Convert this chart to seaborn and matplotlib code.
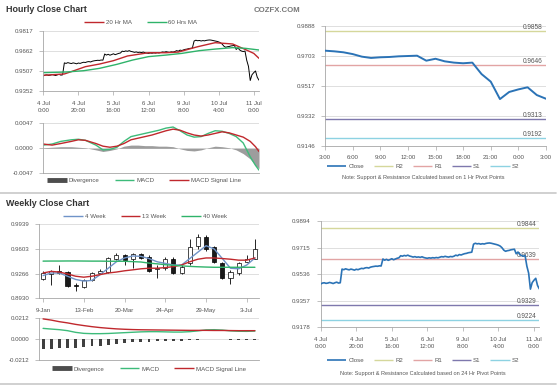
import numpy as np
import matplotlib
matplotlib.use("Agg")
import matplotlib.pyplot as plt
from matplotlib.lines import Line2D
import seaborn as sns

sns.set_style("white")
plt.rcParams['font.family'] = ['Liberation Sans', 'DejaVu Sans']

# ---- hourly data: 4 Jul 0:00 .. 11 Jul 3:00 (weekend skipped) ----
hourly_close = [
    0.9470, 0.9476, 0.9478, 0.9474, 0.9476, 0.9480, 0.9477, 0.9473, 0.9478, 0.9482, 0.9476, 0.9478,
    0.9570, 0.9566, 0.9572, 0.9568, 0.9565, 0.9570, 0.9567, 0.9563, 0.9569, 0.9566, 0.9571,
    0.9575, 0.9573, 0.9578, 0.9580, 0.9577, 0.9583, 0.9586, 0.9588, 0.9590, 0.9589, 0.9592, 0.9591,
    0.9638, 0.9630, 0.9636, 0.9629, 0.9634, 0.9640, 0.9633, 0.9638, 0.9643, 0.9646,
    0.9660, 0.9657, 0.9662, 0.9659, 0.9664, 0.9658, 0.9655, 0.9651, 0.9654, 0.9650,
    0.9652, 0.9649, 0.9653, 0.9648, 0.9645, 0.9643, 0.9646, 0.9644, 0.9647, 0.9645,
    0.9648, 0.9646, 0.9650, 0.9654, 0.9652, 0.9656, 0.9653, 0.9651, 0.9655, 0.9653, 0.9657,
    0.9664, 0.9660, 0.9668, 0.9665, 0.9670, 0.9674, 0.9676, 0.9680, 0.9682, 0.9684,
    0.9738, 0.9744, 0.9740, 0.9742, 0.9738, 0.9741, 0.9739, 0.9743, 0.9745, 0.9746, 0.9744, 0.9741, 0.9738,
    0.9735, 0.9731, 0.9725, 0.9714, 0.9698, 0.9690, 0.9694, 0.9696, 0.9700, 0.9702, 0.9704, 0.9673,
    0.9685, 0.9669, 0.9661, 0.9657, 0.9661, 0.9590, 0.9543, 0.9435, 0.9479, 0.9495, 0.9508, 0.9460, 0.9437,
]
hour_ticks = [0, 20, 40, 60, 80, 100, 120]
hour_labels = ['4 Jul\n0:00', '4 Jul\n20:00', '5 Jul\n16:00', '6 Jul\n12:00',
               '9 Jul\n8:00', '10 Jul\n4:00', '11 Jul\n0:00']

ma20_hours = [0, 12, 16, 24, 32, 40, 48, 60, 70, 77, 88, 98, 108, 115, 120, 123]
ma20 = [0.9475, 0.9485, 0.9503, 0.9541, 0.9561, 0.9587, 0.9623, 0.9648, 0.9648, 0.9653,
        0.9694, 0.9725, 0.9715, 0.9674, 0.9643, 0.9605]
ma60_hours = [0, 13, 23, 32, 42, 51, 60, 70, 79, 89, 98, 108, 115, 123]
ma60 = [0.9495, 0.9500, 0.9510, 0.9528, 0.9559, 0.9592, 0.9618, 0.9630, 0.9643, 0.9664,
        0.9676, 0.9687, 0.9682, 0.9669]

macd_hours = [0, 5, 10, 16, 20, 24, 30, 34, 38, 42, 46, 50, 54, 58, 62, 66, 70, 74, 78, 82,
              86, 90, 94, 98, 102, 106, 110, 114, 118, 121, 123]
h_macd = [0.0006, 0.0008, 0.0013, 0.0016, 0.0017, 0.0015, 0.0006, -0.0003, -0.0002, 0.0002,
          0.0013, 0.0022, 0.0025, 0.0028, 0.0031, 0.0034, 0.0038, 0.0040, 0.0033, 0.0025,
          0.0021, 0.0022, 0.0028, 0.0033, 0.0032, 0.0028, 0.0022, 0.0010, -0.0016, -0.0032, -0.0041]
h_signal = [0.0008, 0.0006, 0.0009, 0.0013, 0.0016, 0.0015, 0.0009, 0.0004, 0.0002, 0.0004,
            0.0009, 0.0016, 0.0019, 0.0022, 0.0025, 0.0029, 0.0033, 0.0036, 0.0034, 0.0029,
            0.0025, 0.0023, 0.0025, 0.0028, 0.0031, 0.0029, 0.0025, 0.0021, 0.0013, 0.0003, -0.0006]
h_div = [0.0001, 0.0002, 0.0003, 0.0003, 0.0002, 0.0001, -0.0003, -0.0006, -0.0004, -0.0001,
         0.0004, 0.0006, 0.0006, 0.0005, 0.0005, 0.0004, 0.0004, 0.0003, -0.0001, -0.0004,
         -0.0005, -0.0003, 0.0001, 0.0004, 0.0003, 0.0001, -0.0003, -0.0010, -0.0020, -0.0032, -0.0038]

# last 25 hours for the pivot chart
day_labels = ['3:00', '6:00', '9:00', '12:00', '15:00', '18:00', '21:00', '0:00', '3:00']
level_names = ['R2', 'R1', 'S1', 'S2']
levels_1h = [0.9858, 0.9646, 0.9313, 0.9192]
levels_24h = [0.9844, 0.9639, 0.9329, 0.9224]

# ---- weekly data ----
week_labels = ['9-Jan', '13-Feb', '20-Mar', '24-Apr', '29-May', '3-Jul']
w_open = [.9187, .9262, .9297, .9288, .9113, .9087, .9174, .9275, .9288, .9472, .9524, .9463, .9529, .9494,
          .9332, .9340, .9472, .9275, .9406, .9647, .9769, .9625, .9406, .9209, .9275, .9428, .9472]
w_high = [.9297, .9318, .9384, .9305, .9143, .9187, .9288, .9327, .9494, .9546, .9537, .9550, .9546, .9515,
          .9384, .9494, .9494, .9384, .9734, .9800, .9787, .9647, .9428, .9318, .9428, .9515, .9743]
w_low = [.9174, .9108, .9262, .9087, .9025, .9069, .9165, .9262, .9275, .9450, .9384, .9340, .9463, .9288,
         .9209, .9318, .9262, .9262, .9384, .9603, .9581, .9406, .9187, .9122, .9253, .9419, .9463]
w_close = [.9275, .9305, .9270, .9100, .9104, .9174, .9275, .9305, .9480, .9524, .9450, .9537, .9480, .9305,
           .9349, .9472, .9275, .9362, .9625, .9769, .9603, .9428, .9209, .9288, .9406, .9472, .9603]
ma4 = [.9240, .9275, .9275, .9231, .9187, .9165, .9174, .9253, .9340, .9428, .9480, .9507, .9502, .9472,
       .9428, .9406, .9384, .9384, .9472, .9559, .9647, .9603, .9472, .9340, .9332, .9384, .9480]
ma13 = [.9275, .9297, .9288, .9262, .9231, .9218, .9231, .9253, .9275, .9288, .9305, .9318, .9332, .9340,
        .9340, .9349, .9362, .9384, .9428, .9463, .9480, .9480, .9472, .9463, .9450, .9450, .9480]
ma40 = [.9437, .9438, .9438, .9439, .9439, .9438, .9437, .9437, .9435, .9435, .9435, .9430, .9425, .9410,
        .9400, .9388, .9380, .9372, .9365, .9360, .9356, .9353, .9353, .9353, .9353, .9353, .9353]
w_macd = [.0105, .0098, .0092, .0082, .0065, .0055, .0052, .0052, .0054, .0058, .0062, .0066, .0070, .0072,
          .0072, .0070, .0068, .0068, .0072, .0080, .0090, .0092, .0088, .0080, .0076, .0075, .0078]
w_signal = [.0200, .0188, .0172, .0160, .0145, .0133, .0122, .0113, .0106, .0100, .0096, .0093, .0091, .0090,
            .0089, .0088, .0087, .0086, .0085, .0085, .0085, .0084, .0084, .0083, .0082, .0082, .0082]
w_div = [-.0100, -.0098, -.0095, -.0092, -.0088, -.0082, -.0075, -.0068, -.0060, -.0050, -.0042, -.0036,
         -.0030, -.0027, -.0024, -.0022, -.0020, -.0018, -.0014, -.0010, -.0004, .0003, -.0006, -.0008,
         -.0009, -.0009, -.0008]

RED = '#c0282d'
GREEN = '#2fb36a'
MGREEN = '#3dbb7a'
BLUE = '#6f93c8'
CLOSE = '#2b73b6'
LVL_COL = ['#d5d79b', '#e2a4a4', '#7e78ad', '#8dd2e2']
TXT = '#555555'
FS = 4.4

W, H = 560, 386
fig = plt.figure(figsize=(5.6, 3.86), dpi=100)


def box(l, t, r, b):
    return [l / W, 1 - b / H, (r - l) / W, (b - t) / H]


def style(ax, ylabels):
    yt = [float(v) for v in ylabels]
    ax.set_yticks(yt)
    ax.set_yticklabels(ylabels)
    ax.set_ylim(min(yt), max(yt))
    ax.grid(axis='y', color='#d9d9d9', lw=0.6)
    ax.grid(axis='x', visible=False)
    for s in ['top', 'right']:
        ax.spines[s].set_visible(False)
    for s in ['left', 'bottom']:
        ax.spines[s].set_color('#a6a6a6')
        ax.spines[s].set_linewidth(0.6)
    ax.tick_params(labelsize=FS, colors='#a6a6a6', labelcolor=TXT, length=3, width=0.5, pad=4,
                   left=True, bottom=True)
    ax.set_xlabel('')
    ax.set_ylabel('')
    ax.set_axisbelow(True)


def legend(ax, handles, labels, cx, cy, colsp=2.5):
    ax.legend(handles, labels, loc='center', bbox_to_anchor=(cx / W, 1 - cy / H),
              bbox_transform=fig.transFigure, ncol=len(labels), frameon=False, fontsize=FS,
              handlelength=3.2, handletextpad=0.3, columnspacing=colsp, borderpad=0,
              labelcolor=TXT)


def line(c, lw=1.0):
    return Line2D([], [], color=c, lw=lw, solid_capstyle='butt')


hrs = np.arange(len(hourly_close))

# ---- hourly close chart ----
ax1 = fig.add_axes(box(43.3, 30.7, 259, 91.3))
sns.lineplot(x=hrs, y=hourly_close, ax=ax1, color='black', lw=0.7)
sns.lineplot(x=ma20_hours, y=ma20, ax=ax1, color=RED, lw=1.0)
sns.lineplot(x=ma60_hours, y=ma60, ax=ax1, color=GREEN, lw=1.0)
style(ax1, ['0.9352', '0.9507', '0.9662', '0.9817'])
ax1.set_xlim(0, len(hourly_close) - 1)
ax1.set_xticks(hour_ticks)
ax1.set_xticklabels(hour_labels, linespacing=1.4)
legend(ax1, [line(RED), line(GREEN)], ['20 Hr MA', '60 Hrs MA'], 141, 22.7)

ax2 = fig.add_axes(box(43.3, 123.3, 259, 173.3))
ax2.fill_between(macd_hours, 0, h_div, color='#9d9d9d', lw=0)
sns.lineplot(x=macd_hours, y=h_macd, ax=ax2, color=MGREEN, lw=1.0)
sns.lineplot(x=macd_hours, y=h_signal, ax=ax2, color=RED, lw=1.0)
style(ax2, ['-0.0047', '0.0000', '0.0047'])
ax2.set_xlim(0, len(hourly_close) - 1)
ax2.set_xticks([])
legend(ax2, [line('#4d4d4d', 3.5), line(MGREEN), line(RED)],
       ['Divergence', 'MACD', 'MACD Signal Line'], 144, 180)

# ---- weekly close chart ----
weeks = np.arange(len(w_close))
ax3 = fig.add_axes(box(39, 224.3, 259, 298.3))
ax3.vlines(weeks, w_low, w_high, color='black', lw=0.6, zorder=2)
up = [c >= o for o, c in zip(w_open, w_close)]
ax3.bar(weeks, np.abs(np.subtract(w_close, w_open)), bottom=np.minimum(w_open, w_close), width=0.5,
        color=['white' if u else '#1a1a1a' for u in up], edgecolor='black', lw=0.5, zorder=3)
sns.lineplot(x=weeks, y=ma4, ax=ax3, color=BLUE, lw=1.0, zorder=4)
sns.lineplot(x=weeks, y=ma13, ax=ax3, color=RED, lw=1.0, zorder=4)
sns.lineplot(x=weeks, y=ma40, ax=ax3, color=GREEN, lw=1.0, zorder=4)
style(ax3, ['0.8930', '0.9266', '0.9603', '0.9939'])
ax3.set_xlim(-0.5, len(w_close) - 0.5)
ax3.set_xticks(range(0, 5 * len(week_labels), 5))
ax3.set_xticklabels(week_labels)
legend(ax3, [line(BLUE), line(RED), line(GREEN)], ['4 Week', '13 Week', '40 Week'], 145, 216.5)

ax4 = fig.add_axes(box(39, 317.7, 259, 360))
ax4.bar(weeks, w_div, width=0.35, color='#404040', lw=0, zorder=2)
sns.lineplot(x=weeks, y=w_macd, ax=ax4, color=MGREEN, lw=1.0)
sns.lineplot(x=weeks, y=w_signal, ax=ax4, color=RED, lw=1.0)
style(ax4, ['-0.0212', '0.0000', '0.0212'])
ax4.set_xlim(-0.5, len(w_close) - 0.5)
ax4.set_xticks([])
legend(ax4, [line('#4d4d4d', 3.5), line(MGREEN), line(RED)],
       ['Divergence', 'MACD', 'MACD Signal Line'], 149, 369)


# ---- pivot charts ----
def pivot(ax, x, y, levels, note, cy_leg, cy_note, lw):
    for lv, c in zip(levels, LVL_COL):
        ax.axhline(lv, color=c, lw=1.0, zorder=1)
        ax.text(0.985, lv, f'{lv:.4f}', transform=ax.get_yaxis_transform(), ha='right', va='bottom',
                fontsize=FS + 0.3, color=TXT)
    sns.lineplot(x=x, y=y, ax=ax, color=CLOSE, lw=lw, zorder=3)
    handles = [line(CLOSE, 1.2)] + [line(c) for c in LVL_COL]
    legend(ax, handles, ['Close'] + level_names, 423, cy_leg, colsp=1.6)
    fig.text(423 / W, 1 - cy_note / H, note, ha='center', va='center', fontsize=FS - 0.4, color=TXT)


day = hourly_close[-25:]
ax5 = fig.add_axes(box(325, 26, 546, 145.7))
pivot(ax5, np.arange(len(day)), day, levels_1h,
      'Note: Support & Resistance Calculated based on 1 Hr Pivot Points', 166.7, 177.3, 1.4)
style(ax5, ['0.9146', '0.9332', '0.9517', '0.9703', '0.9888'])
ax5.set_xlim(0, len(day) - 1)
ax5.set_xticks(range(0, len(day), 3))
ax5.set_xticklabels(day_labels)

ax6 = fig.add_axes(box(320.7, 221, 539.3, 327.3))
pivot(ax6, hrs, hourly_close, levels_24h,
      'Note: Support & Resistance Calculated based on 24 Hr Pivot Points', 360.7, 374, 1.2)
style(ax6, ['0.9178', '0.9357', '0.9536', '0.9715', '0.9894'])
ax6.set_xlim(0, len(hourly_close) - 1)
ax6.set_xticks(hour_ticks)
ax6.set_xticklabels(hour_labels, linespacing=1.4)

# ---- titles and separators ----
fig.text(6.5 / W, 1 - 9.5 / H, 'Hourly Close Chart', fontsize=6.4, fontweight='bold', color='#333333',
         va='center')
fig.text(6.5 / W, 1 - 203 / H, 'Weekly Close Chart', fontsize=6.4, fontweight='bold', color='#333333',
         va='center')
fig.text(277 / W, 1 - 10 / H, 'COZFX.COM', fontsize=5.6, fontweight='bold', color='#777777',
         ha='center', va='center')
for yy in [192.5, 383.5]:
    fig.add_artist(Line2D([0, 556 / W], [1 - yy / H] * 2, color='#c8c8c8', lw=1.2))

fig.savefig('out.png', dpi=100)
